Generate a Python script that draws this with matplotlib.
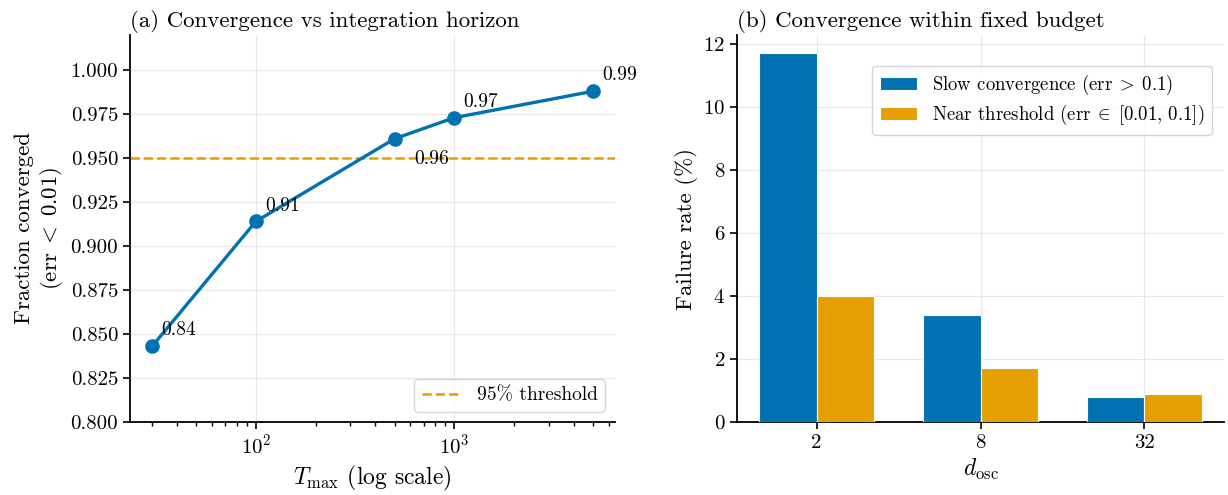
import matplotlib
matplotlib.use("Agg")
import matplotlib.pyplot as plt
import numpy as np

plt.rcParams.update({
    "font.family": "serif",
    "font.serif": ["cmr10", "DejaVu Serif"],
    "mathtext.fontset": "cm",
    "axes.formatter.use_mathtext": True,
    "axes.unicode_minus": False,
})

# ---- data ----
t_max = [30, 100, 500, 1000, 5000]
frac_converged = [0.843, 0.914, 0.961, 0.973, 0.988]
threshold = 0.95

d_osc = ["2", "8", "32"]
slow_conv = [11.7, 3.4, 0.8]
near_thresh = [4.0, 1.7, 0.9]

BLUE = "#0072B2"
ORANGE = "#E69F00"

W, H = 1228, 495
fig = plt.figure(figsize=(W/100, H/100), dpi=100)
ax1 = fig.add_axes([130/W, (H-422)/H, 485/W, 387/H])
ax2 = fig.add_axes([737/W, (H-422)/H, 487/W, 387/H])

for ax in (ax1, ax2):
    ax.spines["top"].set_visible(False)
    ax.spines["right"].set_visible(False)
    for s in ("left", "bottom"):
        ax.spines[s].set_linewidth(1.3)
    ax.grid(True, color="#e8e8e8", linewidth=0.9)
    ax.set_axisbelow(True)
    ax.tick_params(labelsize=15, width=1.2, length=5)

# ---- panel (a) ----
ax1.plot(t_max, frac_converged, "-o", color=BLUE, lw=2.4, ms=9.5, zorder=3)
ax1.axhline(threshold, color=ORANGE, ls="--", lw=1.8, label="95% threshold", zorder=2)
ax1.set_xscale("log")
ax1.set_ylim(0.8, 1.02)
ax1.set_yticks(np.arange(0.8, 1.001, 0.025))
ax1.yaxis.set_major_formatter(matplotlib.ticker.FormatStrFormatter("%.3f"))
ax1.tick_params(which="minor", length=3, width=1.0)
ax1.grid(False, which="minor")
for i, (t, f) in enumerate(zip(t_max, frac_converged)):
    if i == 2:
        ax1.annotate(f"{f:.2f}", (t, f), xytext=(14, -14.5), textcoords="offset points",
                     fontsize=14, ha="left", va="center")
    else:
        ax1.annotate(f"{f:.2f}", (t, f), xytext=(6.5, 5), textcoords="offset points",
                     fontsize=14, ha="left", va="bottom")
ax1.set_xlabel(r"$T_{\max}$ (log scale)", fontsize=17)
ax1.set_ylabel("Fraction converged\n" + r"($\mathrm{err}\;<\;0.01$)", fontsize=16.5)
ax1.set_title("(a) Convergence vs integration horizon", fontsize=16.5, loc="left")
ax1.legend(loc="lower right", fontsize=14, fancybox=True, edgecolor="#cccccc")

# ---- panel (b) ----
x = np.arange(len(d_osc))
w = 0.35
ax2.bar(x - w/2, slow_conv, w, color=BLUE, edgecolor="white", linewidth=0.8,
        label=r"Slow convergence ($\mathrm{err}\;>\;0.1$)", zorder=3)
ax2.bar(x + w/2, near_thresh, w, color=ORANGE, edgecolor="white", linewidth=0.8,
        label=r"Near threshold ($\mathrm{err}\;\in\;[0.01,\,0.1]$)", zorder=3)
ax2.set_xticks(x)
ax2.set_xticklabels(d_osc)
ax2.set_xlabel(r"$d_{\mathrm{osc}}$", fontsize=17)
ax2.set_ylabel("Failure rate (%)", fontsize=16.5)
ax2.set_title("(b) Convergence within fixed budget", fontsize=16.5, loc="left")
ax2.legend(loc="upper right", bbox_to_anchor=(0.995, 0.945), fontsize=13.5,
           labelspacing=0.3, fancybox=True, edgecolor="#cccccc")

fig.savefig("out.png", dpi=100)
